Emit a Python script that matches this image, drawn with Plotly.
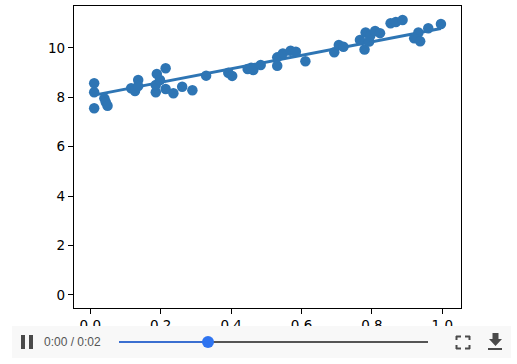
import plotly.graph_objects as go

W, H = 517, 364
L, R, T, B = 74, 461, 6, 308

point_x = [0.011, 0.011, 0.011, 0.040, 0.044, 0.049, 0.116, 0.127, 0.136, 0.136, 0.186, 0.189, 0.186,
           0.198, 0.214, 0.214, 0.236, 0.261, 0.290, 0.329, 0.392, 0.403, 0.447, 0.463, 0.457, 0.484,
           0.531, 0.531, 0.547, 0.569, 0.584, 0.611, 0.693, 0.706, 0.719, 0.766, 0.779, 0.782, 0.792,
           0.795, 0.809, 0.823, 0.853, 0.868, 0.887, 0.932, 0.920, 0.937, 0.960, 0.996]
point_y = [8.57, 8.21, 7.56, 7.96, 7.80, 7.66, 8.37, 8.26, 8.70, 8.46, 8.21, 8.95, 8.50,
           8.70, 9.18, 8.34, 8.17, 8.43, 8.29, 8.88, 9.00, 8.87, 9.15, 9.11, 9.20, 9.31,
           9.62, 9.28, 9.78, 9.89, 9.85, 9.46, 9.83, 10.12, 10.05, 10.32, 9.94, 10.63, 10.26,
           10.49, 10.69, 10.60, 11.00, 11.05, 11.13, 10.63, 10.39, 10.27, 10.80, 10.97]
fit_x = [0.011, 0.996]
fit_y = [8.09, 10.79]
x_ticks = [0.0, 0.2, 0.4, 0.6, 0.8, 1.0]
x_labels = ["0.0", "0.2", "0.4", "0.6", "0.8", "1.0"]
y_ticks = [0, 2, 4, 6, 8, 10]
x_range = [-0.0463, 1.053]
y_range = [-0.53, 11.7]
time_label = "0:00 / 0:02"
BLUE = "#2e75b4"


def px(x):
    return (x - L) / (R - L)


def py(y):
    return (B - y) / (B - T)


def rect(x0, y0, x1, y1, color):
    return dict(type="rect", xref="paper", yref="paper", x0=px(x0), x1=px(x1), y0=py(y0), y1=py(y1),
                fillcolor=color, line_width=0, layer="above")


def seg(x0, y0, x1, y1, color, w):
    return dict(type="line", xref="paper", yref="paper", x0=px(x0), x1=px(x1), y0=py(y0), y1=py(y1),
                line=dict(color=color, width=w), layer="above")


def poly(points, color):
    path = "M " + " L ".join(f"{px(a)} {py(b)}" for a, b in points) + " Z"
    return dict(type="path", xref="paper", yref="paper", path=path, fillcolor=color, line_width=0, layer="above")


fig = go.Figure()
fig.add_trace(go.Scatter(x=fit_x, y=fit_y, mode="lines", line=dict(color=BLUE, width=3), showlegend=False))
fig.add_trace(go.Scatter(x=point_x, y=point_y, mode="markers",
                         marker=dict(color=BLUE, size=10.5, line_width=0), showlegend=False))

ICON = "#4a4a4a"
shapes = [
    rect(12, 326, 511, 358, "#f8f8f8"),
    rect(21, 335, 25, 349, ICON),
    rect(29, 335, 33, 349, ICON),
    seg(119, 342, 428, 342, "#555555", 2),
    seg(119, 342, 208, 342, "#3b6fd0", 2),
    dict(type="circle", xref="paper", yref="paper", x0=px(202), x1=px(214), y0=py(336), y1=py(348),
         fillcolor="#2f74f0", line_width=0, layer="above"),
    # fullscreen corners
    seg(456.5, 340, 456.5, 336, ICON, 2), seg(456, 336.5, 461, 336.5, ICON, 2),
    seg(469.5, 340, 469.5, 336, ICON, 2), seg(465, 336.5, 470, 336.5, ICON, 2),
    seg(456.5, 345, 456.5, 349, ICON, 2), seg(456, 348.5, 461, 348.5, ICON, 2),
    seg(469.5, 345, 469.5, 349, ICON, 2), seg(465, 348.5, 470, 348.5, ICON, 2),
    # download
    poly([(492.5, 333), (498.5, 333), (498.5, 339), (502, 339), (495.5, 346), (489, 339), (492.5, 339)], ICON),
    rect(488, 348, 502, 350, ICON),
]

fig.update_layout(
    width=W, height=H,
    margin=dict(l=L, r=W - R, t=T, b=H - B),
    paper_bgcolor="white", plot_bgcolor="white",
    font=dict(family="DejaVu Sans", size=13.5, color="black"),
    xaxis=dict(range=x_range, tickmode="array", tickvals=x_ticks, ticktext=x_labels, showgrid=False,
               zeroline=False, showline=True, mirror=True, linecolor="black", linewidth=1.2,
               ticks="outside", ticklen=5, tickcolor="black", tickwidth=1),
    yaxis=dict(range=y_range, tickmode="array", tickvals=y_ticks, showgrid=False,
               zeroline=False, showline=True, mirror=True, linecolor="black", linewidth=1.2,
               ticks="outside", ticklen=5, tickcolor="black", tickwidth=1),
    shapes=shapes,
    annotations=[dict(text=time_label, xref="paper", yref="paper", x=px(42), y=py(342), xanchor="left",
                      yanchor="middle", showarrow=False, font=dict(family="Liberation Sans", size=12, color="#555555"))],
)
fig.write_html("out.html", config=dict(displayModeBar=False),
               post_script="document.body.style.margin='0';document.body.style.overflow='hidden';")
